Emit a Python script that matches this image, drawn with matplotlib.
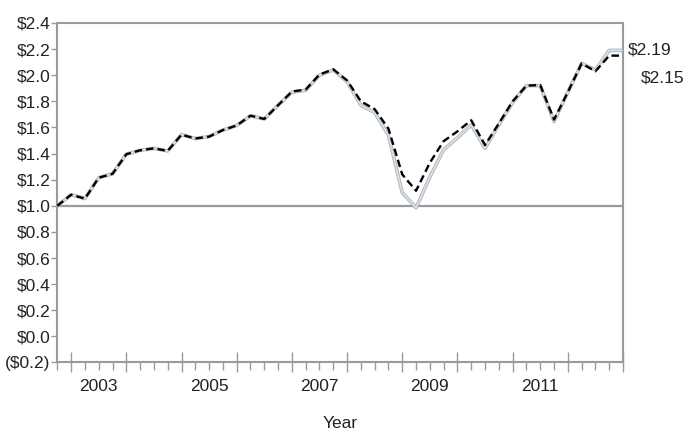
import matplotlib
matplotlib.use("Agg")
import matplotlib.pyplot as plt
from matplotlib.ticker import FuncFormatter, FixedLocator

plt.rcParams['font.family'] = ['Liberation Sans', 'DejaVu Sans']

# quarter-end dates as fractional years, Q3 2002 .. Q4 2012
quarters = [2002.75,
            2003.0, 2003.25, 2003.5, 2003.75,
            2004.0, 2004.25, 2004.5, 2004.75,
            2005.0, 2005.25, 2005.5, 2005.75,
            2006.0, 2006.25, 2006.5, 2006.75,
            2007.0, 2007.25, 2007.5, 2007.75,
            2008.0, 2008.25, 2008.5, 2008.75,
            2009.0, 2009.25, 2009.5, 2009.75,
            2010.0, 2010.25, 2010.5, 2010.75,
            2011.0, 2011.25, 2011.5, 2011.75,
            2012.0, 2012.25, 2012.5, 2012.75,
            2013.0]

# growth of $1 - solid (light) series
solid_values = [1.00,
                1.085, 1.055, 1.215, 1.245,
                1.395, 1.425, 1.44, 1.42,
                1.545, 1.515, 1.53, 1.58,
                1.615, 1.69, 1.665, 1.77,
                1.87, 1.885, 2.0, 2.04,
                1.95, 1.77, 1.715, 1.54,
                1.10, 0.985, 1.22, 1.43,
                1.52, 1.62, 1.44, 1.62,
                1.79, 1.92, 1.92, 1.645,
                1.87, 2.09, 2.04, 2.19,
                2.19]

# growth of $1 - dashed series
dashed_values = [1.00,
                 1.085, 1.055, 1.215, 1.245,
                 1.395, 1.425, 1.44, 1.42,
                 1.545, 1.515, 1.53, 1.58,
                 1.615, 1.69, 1.665, 1.77,
                 1.875, 1.89, 2.005, 2.045,
                 1.96, 1.80, 1.74, 1.59,
                 1.24, 1.115, 1.33, 1.495,
                 1.57, 1.655, 1.465, 1.63,
                 1.80, 1.92, 1.925, 1.66,
                 1.87, 2.09, 2.03, 2.15,
                 2.15]

year_labels = ['2003', '2005', '2007', '2009', '2011']
year_label_pos = [2003.5, 2005.5, 2007.5, 2009.5, 2011.5]
year_bounds = list(range(2003, 2014))

AXIS_GREY = '#9a9a9a'
TEXT_COL = '#222222'
FONT_SIZE = 12.5

fig = plt.figure(figsize=(6.85, 4.32), dpi=100)
ax = fig.add_axes([0.0837, 0.1609, 0.8258, 0.7859])

# baseline at $1
ax.axhline(1.0, color=AXIS_GREY, lw=1.6, zorder=1)

# solid series drawn as a grey outline with a pale blue core
ax.plot(quarters, solid_values, color='#b8b8b8', lw=2.6, zorder=2)
ax.plot(quarters, solid_values, color='#d3e4f4', lw=1.1, zorder=3)
ax.plot(quarters, dashed_values, color='black', lw=1.7, dashes=(3.2, 1.7), zorder=4)

ax.set_xlim(2002.75, 2013.0)
ax.set_ylim(-0.2, 2.4)

for side in ['top', 'right', 'left', 'bottom']:
    ax.spines[side].set_color(AXIS_GREY)
    ax.spines[side].set_linewidth(1.5)

# y axis: dollar labels, negatives in brackets
def dollar(v, pos):
    v = round(v, 1)
    if v < 0:
        return f"(${-v:.1f})"
    return f"${v:.1f}"

ax.yaxis.set_major_locator(FixedLocator([round(-0.2 + 0.2 * i, 1) for i in range(14)]))
ax.yaxis.set_major_formatter(FuncFormatter(dollar))
ax.tick_params(axis='y', direction='out', length=4, width=1, color=AXIS_GREY,
               labelsize=FONT_SIZE, labelcolor=TEXT_COL, pad=1)

# x axis: long ticks at year boundaries, short quarterly ticks
ax.set_xticks(year_bounds)
ax.set_xticklabels([])
ax.set_xticks([q for q in quarters if q % 1 != 0], minor=True)
ax.tick_params(axis='x', which='major', direction='inout', length=14, width=1, color=AXIS_GREY)
ax.tick_params(axis='x', which='minor', direction='out', length=6, width=1, color=AXIS_GREY)

# year names sit in the middle of each year
sec = ax.secondary_xaxis('bottom')
sec.set_xticks(year_label_pos, year_labels)
sec.tick_params(length=0, pad=12, labelsize=FONT_SIZE, labelcolor=TEXT_COL)
sec.spines['bottom'].set_visible(False)
sec.set_xlabel('Year', fontsize=FONT_SIZE, color=TEXT_COL, labelpad=15.5)

# end values written just outside the plot
ax.text(1.009, solid_values[-1], f"${solid_values[-1]:.2f}", transform=ax.get_yaxis_transform(),
        ha='left', va='center', fontsize=FONT_SIZE, color=TEXT_COL)
ax.text(1.032, dashed_values[-1] - 0.17, f"${dashed_values[-1]:.2f}", transform=ax.get_yaxis_transform(),
        ha='left', va='center', fontsize=FONT_SIZE, color=TEXT_COL)

fig.savefig('out.png', dpi=100)
